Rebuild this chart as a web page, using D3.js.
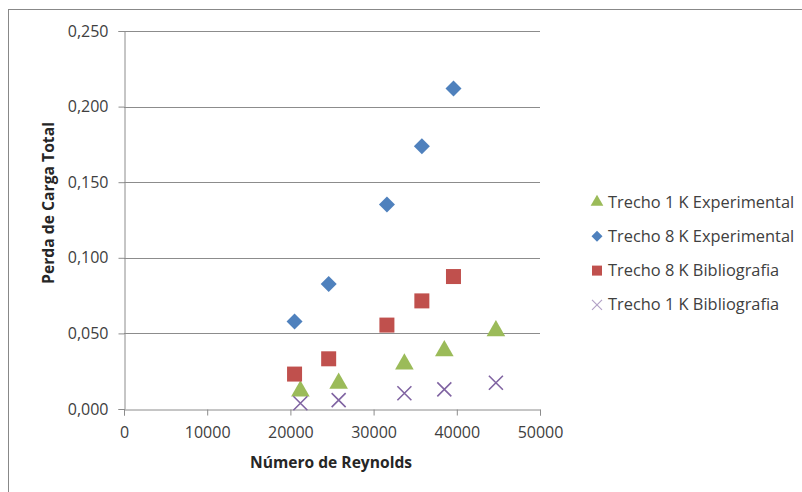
<!DOCTYPE html>
<html>
<head>
<meta charset="utf-8">
<script src="https://cdn.jsdelivr.net/npm/d3@7"></script>
<style>
  body { margin: 0; background: #fff; }
  text { font-family: "Open Sans", "DejaVu Sans", sans-serif; }
</style>
</head>
<body>
<div id="chart-area"></div>
<script>
// data
const reynolds1K = [21200, 25800, 33700, 38500, 44700];
const reynolds8K = [20500, 24600, 31600, 35800, 39600];
const trecho1KExp = [0.0119, 0.0170, 0.0297, 0.0385, 0.0517];
const trecho8KExp = [0.0578, 0.0826, 0.1352, 0.1737, 0.2120];
const trecho8KBib = [0.0231, 0.0332, 0.0555, 0.0715, 0.0876];
const trecho1KBib = [0.0038, 0.0059, 0.0104, 0.0130, 0.0174];

const seriesNames = ["Trecho 1 K Experimental", "Trecho 8 K Experimental", "Trecho 8 K Bibliografia", "Trecho 1 K Bibliografia"];
const xTicks = [0, 10000, 20000, 30000, 40000, 50000];
const yTicks = [0, 0.05, 0.10, 0.15, 0.20, 0.25];

const width = 802, height = 492;
const margin = {left: 124, top: 31, right: 262, bottom: 83};
const w = width - margin.left - margin.right;
const h = height - margin.top - margin.bottom;

const svg = d3.select("#chart-area").append("svg")
  .attr("width", width).attr("height", height);

// outer frame
svg.append("rect")
  .attr("x", 8.5).attr("y", 9.5)
  .attr("width", 820).attr("height", 520)
  .attr("fill", "none").attr("stroke", "#888").attr("stroke-width", 1);

const g = svg.append("g").attr("transform", `translate(${margin.left},${margin.top})`);

const x = d3.scaleLinear().domain([0, 50000]).range([0, w]);
const y = d3.scaleLinear().domain([0, 0.25]).range([h, 0]);

// gridlines
g.selectAll(".grid").data(yTicks.slice(1)).join("line")
  .attr("class", "grid")
  .attr("x1", 0).attr("x2", w)
  .attr("y1", d => Math.round(y(d)) + 0.5).attr("y2", d => Math.round(y(d)) + 0.5)
  .attr("stroke", "#8c8c8c");

// axes
const fmt = d3.format(".3f");
g.append("g")
  .attr("transform", "translate(0.5,0)")
  .call(d3.axisLeft(y).tickValues(yTicks).tickSize(6).tickPadding(10)
    .tickFormat(d => fmt(d).replace(".", ",")));
g.append("g")
  .attr("transform", `translate(0,${h + 0.5})`)
  .call(d3.axisBottom(x).tickValues(xTicks).tickSize(6).tickPadding(11)
    .tickFormat(d3.format("d")));

g.selectAll(".domain").attr("stroke", "#8c8c8c");
g.selectAll(".tick line").attr("stroke", "#8c8c8c");
g.selectAll(".tick text").attr("fill", "#404040").attr("font-size", "16px");

// axis titles
svg.append("text")
  .attr("transform", "translate(54,203) rotate(-90)")
  .attr("text-anchor", "middle")
  .attr("font-size", "15.7px").attr("font-weight", "bold").attr("fill", "#262626")
  .text("Perda de Carga Total");
svg.append("text")
  .attr("x", 331).attr("y", 468)
  .attr("text-anchor", "middle")
  .attr("font-size", "15.6px").attr("font-weight", "bold").attr("fill", "#262626")
  .text("Número de Reynolds");

// markers
const tri = d3.symbol().type(d3.symbolTriangle).size(150);
const diamond = r => `M0,${-r}L${r},0L0,${r}L${-r},0Z`;

g.selectAll(".s1").data(d3.zip(reynolds1K, trecho1KExp)).join("path")
  .attr("class", "s1")
  .attr("transform", d => `translate(${x(d[0])},${y(d[1])})`)
  .attr("d", tri).attr("fill", "#9bbb59");

g.selectAll(".s2").data(d3.zip(reynolds8K, trecho8KExp)).join("path")
  .attr("class", "s2")
  .attr("transform", d => `translate(${x(d[0])},${y(d[1])})`)
  .attr("d", diamond(8)).attr("fill", "#4f81bd");

g.selectAll(".s3").data(d3.zip(reynolds8K, trecho8KBib)).join("rect")
  .attr("class", "s3")
  .attr("x", d => x(d[0]) - 7.5).attr("y", d => y(d[1]) - 7.5)
  .attr("width", 15).attr("height", 15)
  .attr("fill", "#c0504d");

g.selectAll(".s4").data(d3.zip(reynolds1K, trecho1KBib)).join("path")
  .attr("class", "s4")
  .attr("transform", d => `translate(${x(d[0])},${y(d[1])})`)
  .attr("d", "M-7,-7L7,7M-7,7L7,-7")
  .attr("stroke", "#8064a2").attr("stroke-width", 1.6).attr("fill", "none");

// legend
const legend = svg.append("g").attr("transform", "translate(597,202)");
seriesNames.forEach((name, i) => {
  const row = legend.append("g").attr("transform", `translate(0,${i * 34.3})`);
  if (i === 0) row.append("path").attr("d", d3.symbol().type(d3.symbolTriangle).size(70)).attr("fill", "#9bbb59");
  if (i === 1) row.append("path").attr("d", diamond(5.5)).attr("fill", "#4f81bd");
  if (i === 2) row.append("rect").attr("x", -5).attr("y", -5).attr("width", 10).attr("height", 10).attr("fill", "#c0504d");
  if (i === 3) row.append("path").attr("d", "M-5,-5L5,5M-5,5L5,-5").attr("stroke", "#b3a2c7").attr("stroke-width", 1.2);
  row.append("text")
    .attr("x", 11).attr("y", 5.5)
    .attr("font-size", "16.4px").attr("fill", "#404040")
    .text(name);
});
</script>
</body>
</html>
